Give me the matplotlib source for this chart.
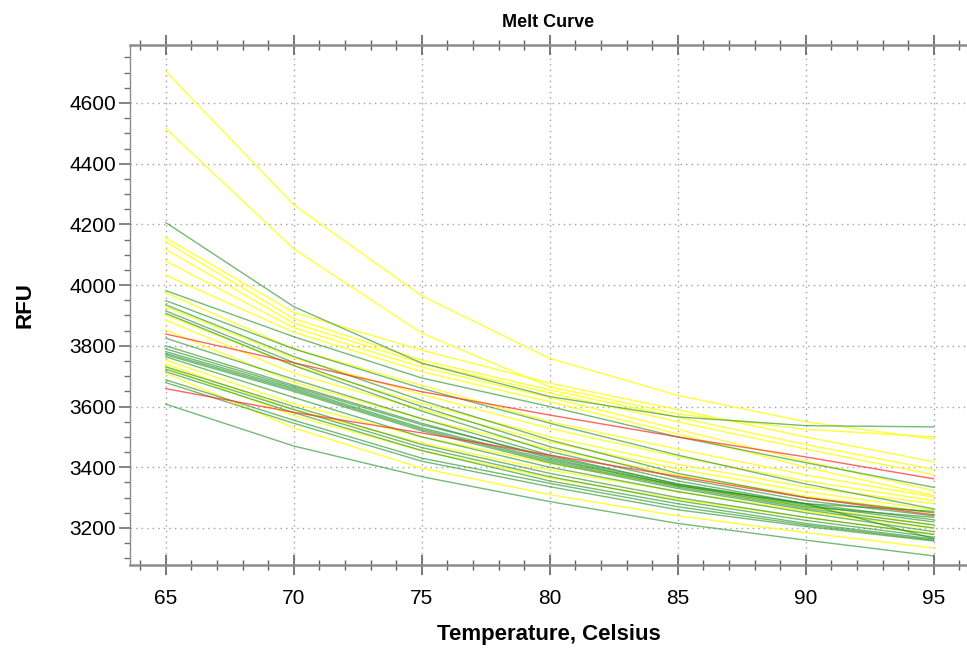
import matplotlib.pyplot as plt
from matplotlib.ticker import MultipleLocator

plt.rcParams['font.family'] = ['Liberation Sans', 'DejaVu Sans']

# temperature points (Celsius)
temps = [65, 70, 75, 80, 85, 90, 95]

# RFU, one list per well
yellow_wells = [
    [4705, 4265, 3965, 3759, 3637, 3550, 3493],
    [4517, 4120, 3842, 3665, 3576, 3525, 3500],
    [4156, 3910, 3786, 3677, 3590, 3500, 3418],
    [4143, 3890, 3753, 3655, 3565, 3475, 3393],
    [4118, 3875, 3743, 3645, 3550, 3460, 3376],
    [4080, 3860, 3730, 3630, 3525, 3420, 3323],
    [4033, 3845, 3715, 3616, 3510, 3400, 3307],
    [3975, 3790, 3670, 3550, 3460, 3375, 3302],
    [3929, 3760, 3640, 3528, 3435, 3355, 3290],
    [3902, 3735, 3610, 3501, 3410, 3335, 3280],
    [3885, 3710, 3590, 3484, 3395, 3320, 3260],
    [3852, 3680, 3560, 3460, 3375, 3305, 3250],
    [3753, 3610, 3500, 3413, 3340, 3270, 3210],
    [3740, 3590, 3480, 3391, 3320, 3255, 3198],
    [3730, 3570, 3455, 3365, 3295, 3235, 3180],
    [3710, 3530, 3397, 3310, 3240, 3185, 3134],
]

green_wells = [
    [4206, 3929, 3743, 3633, 3566, 3537, 3533],
    [3982, 3830, 3694, 3600, 3500, 3415, 3334],
    [3949, 3790, 3660, 3545, 3440, 3345, 3263],
    [3935, 3765, 3620, 3490, 3380, 3300, 3250],
    [3915, 3745, 3600, 3468, 3365, 3290, 3240],
    [3907, 3735, 3585, 3452, 3355, 3280, 3227],
    [3825, 3690, 3560, 3440, 3345, 3275, 3220],
    [3800, 3670, 3545, 3430, 3340, 3270, 3235],
    [3781, 3660, 3530, 3425, 3340, 3280, 3255],
    [3775, 3655, 3525, 3420, 3335, 3265, 3210],
    [3770, 3650, 3520, 3415, 3330, 3260, 3200],
    [3764, 3630, 3500, 3400, 3320, 3250, 3188],
    [3731, 3600, 3475, 3380, 3300, 3235, 3179],
    [3723, 3590, 3465, 3369, 3290, 3225, 3170],
    [3715, 3580, 3455, 3355, 3280, 3215, 3164],
    [3688, 3555, 3430, 3347, 3270, 3210, 3160],
    [3679, 3545, 3420, 3336, 3260, 3205, 3157],
    [3608, 3470, 3369, 3287, 3215, 3160, 3108],
    [3790, 3665, 3540, 3435, 3345, 3280, 3165],
]

red_wells = [
    [3839, 3744, 3649, 3572, 3500, 3434, 3362],
    [3659, 3581, 3513, 3440, 3370, 3300, 3243],
]

fig = plt.figure(figsize=(9.67, 6.52), dpi=100)
ax = fig.add_axes([0.1344, 0.1334, 0.8656, 0.7976])

for w in yellow_wells:
    ax.plot(temps, w, color='#ffff20', lw=1.0, alpha=0.9)
for w in green_wells:
    ax.plot(temps, w, color='#1a8c1a', lw=1.0, alpha=0.6)
for w in red_wells:
    ax.plot(temps, w, color='#ff3030', lw=1.0, alpha=0.75)

ax.set_xlim(63.6, 96.3)
ax.set_ylim(3078, 4791)
ax.xaxis.set_major_locator(MultipleLocator(5))
ax.xaxis.set_minor_locator(MultipleLocator(1))
ax.yaxis.set_major_locator(MultipleLocator(200))
ax.yaxis.set_minor_locator(MultipleLocator(50))

ax.grid(True, which='major', color='#a0a0a0', linestyle=(0, (1, 3)), linewidth=1)

for s in ax.spines.values():
    s.set_color('#8c8c8c')
    s.set_linewidth(1.8)
ax.spines['left'].set_linewidth(1.0)
ax.spines['right'].set_visible(False)

ax.tick_params(axis='x', which='major', direction='inout', length=14, width=1.2,
               color='#606060', labelsize=15, pad=10, top=True)
ax.tick_params(axis='x', which='minor', direction='inout', length=7, width=1,
               color='#606060', top=True)
ax.tick_params(axis='y', which='major', direction='out', length=8, width=1.2,
               color='#707070', labelsize=15, pad=2)
ax.tick_params(axis='y', which='minor', direction='out', length=4, width=1,
               color='#707070')

ax.set_title('Melt Curve', fontsize=13, fontweight='bold', pad=13)
ax.set_xlabel('Temperature, Celsius', fontsize=16, fontweight='bold', labelpad=12)
ax.set_ylabel('RFU', fontsize=16, fontweight='bold', labelpad=24)

fig.savefig('out.png', dpi=100, facecolor='white')
